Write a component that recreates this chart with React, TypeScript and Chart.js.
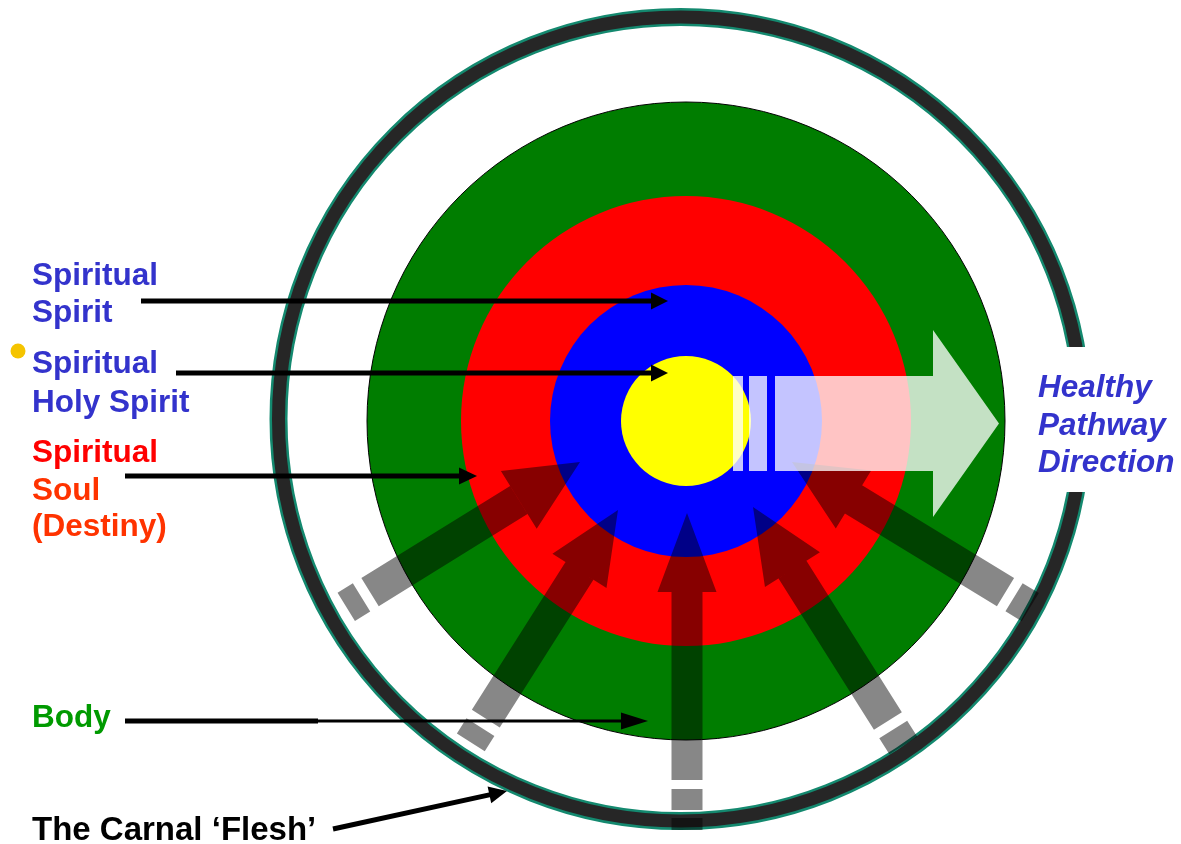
import { useEffect, useRef } from 'react';
import { Chart, registerables } from 'chart.js';

Chart.register(...registerables);

const W = 1181;
const H = 844;
// Diagram frame: origin at the centre of the target, 1 unit = 1 px, y up
const xMin = -686;
const xMax = 495;
const yMin = -423;
const yMax = 421;

// Concentric rings (bubbles): edge + dark band of the outer 'Flesh' ring, then Body, Soul, Spirit, Holy Spirit
const ringNames = ['Flesh edge', 'The Carnal ‘Flesh’', 'Body', 'Soul', 'Spirit', 'Holy Spirit'];
const ringX = [-5.5, -5.5, 0, 0, 0, 0];
const ringY = [2, 2, 0, 0, 0, 0];
const ringR = [402, 402, 319, 225, 136, 65];
const ringFill = ['rgba(0,0,0,0)', 'rgba(0,0,0,0)', '#007d00', '#ff0000', '#0000ff', '#ffff00'];
const ringLine = ['#14896f', '#262626', '#000000', '#ff0000', '#0000ff', '#ffff00'];
const ringLineWidth = [18, 13, 1, 0, 0, 0];

// Inflow arrows (dark translucent) – tip and tail end points
const inflowTipX = [-106, -68, 1, 67, 106];
const inflowTipY = [-41, -89, -92, -86, -41];
const inflowTailX = [-340, -215, 1, 217, 344];
const inflowTailY = [-186, -321, -409, -324, -186];
const inflowHeadLen = [72, 72, 79, 74, 72];
const inflowHeadW = [68, 64, 59, 65, 68];
const inflowShaftW = [33, 33, 31, 33, 33];
// shaft pieces along the axis, measured from the tip
const inflowPieces = [
  [[72, 247], [257, 275]],
  [[72, 247], [257, 275]],
  [[79, 267], [276, 297], [305, 317]],
  [[74, 253], [263, 282]],
  [[72, 250], [260, 279]],
];

// Healthy pathway arrow (light translucent), pointing right
const pathTipX = 313;
const pathMidY = -2.5;
const pathHeadBaseX = 247;
const pathHeadHalf = 93.5;
const pathShaftHalf = 47.5;
const pathPieces = [[47, 57], [63, 81], [89, 247]];

// Label pointer arrows
const pointerFromX = [-545, -510, -561, -561, -353];
const pointerFromY = [120, 48, -55, -300, -408];
const pointerToX = [-18, -18, -209, -38, -179];
const pointerToY = [120, 48, -55, -300, -370];
const pointerHeadLen = [17, 17, 18, 27, 18];
const pointerThinFromX = [null, null, null, -368, null];

// Labels
const labelText = [
  'Spiritual', 'Spirit',
  'Spiritual', 'Holy Spirit',
  'Spiritual', 'Soul', '(Destiny)',
  'Body',
  'The Carnal ‘Flesh’',
  'Healthy', 'Pathway', 'Direction',
];
const labelX = [-654, -654, -654, -654, -654, -654, -654, -654, -654, 352, 352, 352];
const labelY = [136, 99, 48, 9, -41, -79, -115, -306, -419, 24, -14, -51];
const labelSize = [31.5, 31.5, 31.5, 31.5, 31.5, 31.5, 31.5, 31.5, 33, 31.5, 31.5, 31.5];
const labelColor = [
  '#3333cc', '#3333cc',
  '#3333cc', '#3333cc',
  '#ff0000', '#ff3300', '#ff3300',
  '#009a00',
  '#000000',
  '#3333cc', '#3333cc', '#3333cc',
];
const labelItalic = [false, false, false, false, false, false, false, false, false, true, true, true];

// Text box behind the pathway label (breaks the outer ring)
const boxX = [344, 495];
const boxY = [74, -71];

// Bullet dot
const dotX = -668;
const dotY = 70;
const dotR = 7.5;

const diagramPlugin = {
  id: 'diagram',
  afterDatasetsDraw(chart: any) {
    const { ctx } = chart;
    const xs = chart.scales.x;
    const ys = chart.scales.y;
    const px = (v: number) => xs.getPixelForValue(v);
    const py = (v: number) => ys.getPixelForValue(v);

    ctx.save();

    // inflow arrows
    ctx.beginPath();
    for (let i = 0; i < inflowTipX.length; i++) {
      const tx = inflowTipX[i];
      const ty = inflowTipY[i];
      const dx = inflowTailX[i] - tx;
      const dy = inflowTailY[i] - ty;
      const len = Math.hypot(dx, dy);
      const ux = dx / len;
      const uy = dy / len;
      const nx = -uy;
      const ny = ux;
      const P = (s: number, w: number) => [px(tx + ux * s + nx * w), py(ty + uy * s + ny * w)];
      const hw = inflowHeadW[i] / 2;
      const hl = inflowHeadLen[i];
      let p = P(0, 0);
      ctx.moveTo(p[0], p[1]);
      p = P(hl, hw);
      ctx.lineTo(p[0], p[1]);
      p = P(hl, -hw);
      ctx.lineTo(p[0], p[1]);
      ctx.closePath();
      const sw = inflowShaftW[i] / 2;
      for (const [a, b] of inflowPieces[i]) {
        let q = P(a, sw);
        ctx.moveTo(q[0], q[1]);
        q = P(b, sw);
        ctx.lineTo(q[0], q[1]);
        q = P(b, -sw);
        ctx.lineTo(q[0], q[1]);
        q = P(a, -sw);
        ctx.lineTo(q[0], q[1]);
        ctx.closePath();
      }
    }
    ctx.fillStyle = 'rgba(0,0,0,0.47)';
    ctx.fill();

    // pathway arrow
    ctx.beginPath();
    for (const [a, b] of pathPieces) {
      ctx.moveTo(px(a), py(pathMidY + pathShaftHalf));
      ctx.lineTo(px(b), py(pathMidY + pathShaftHalf));
      ctx.lineTo(px(b), py(pathMidY - pathShaftHalf));
      ctx.lineTo(px(a), py(pathMidY - pathShaftHalf));
      ctx.closePath();
    }
    ctx.moveTo(px(pathHeadBaseX), py(pathMidY + pathHeadHalf));
    ctx.lineTo(px(pathTipX), py(pathMidY));
    ctx.lineTo(px(pathHeadBaseX), py(pathMidY - pathHeadHalf));
    ctx.closePath();
    ctx.fillStyle = 'rgba(255,255,255,0.77)';
    ctx.fill();

    // text box
    ctx.fillStyle = '#ffffff';
    ctx.fillRect(px(boxX[0]), py(boxY[0]), px(boxX[1]) - px(boxX[0]), py(boxY[1]) - py(boxY[0]));

    // pointer arrows
    ctx.fillStyle = '#000000';
    ctx.strokeStyle = '#000000';
    ctx.lineCap = 'butt';
    for (let i = 0; i < pointerFromX.length; i++) {
      const fx = pointerFromX[i];
      const fy = pointerFromY[i];
      const tx = pointerToX[i];
      const ty = pointerToY[i];
      const dx = tx - fx;
      const dy = ty - fy;
      const len = Math.hypot(dx, dy);
      const ux = dx / len;
      const uy = dy / len;
      const hl = pointerHeadLen[i];
      const bx = tx - ux * hl;
      const by = ty - uy * hl;
      const thin = pointerThinFromX[i];
      if (thin !== null) {
        const t = (thin - fx) / dx;
        const mx = fx + dx * t;
        const my = fy + dy * t;
        ctx.lineWidth = 5;
        ctx.beginPath();
        ctx.moveTo(px(fx), py(fy));
        ctx.lineTo(px(mx), py(my));
        ctx.stroke();
        ctx.lineWidth = 3;
        ctx.beginPath();
        ctx.moveTo(px(mx), py(my));
        ctx.lineTo(px(bx + ux), py(by + uy));
        ctx.stroke();
      } else {
        ctx.lineWidth = 5;
        ctx.beginPath();
        ctx.moveTo(px(fx), py(fy));
        ctx.lineTo(px(bx + ux), py(by + uy));
        ctx.stroke();
      }
      const hw = 8.5;
      ctx.beginPath();
      ctx.moveTo(px(tx), py(ty));
      ctx.lineTo(px(bx - uy * hw), py(by + ux * hw));
      ctx.lineTo(px(bx + uy * hw), py(by - ux * hw));
      ctx.closePath();
      ctx.fill();
    }

    // labels
    ctx.textBaseline = 'alphabetic';
    ctx.textAlign = 'left';
    for (let i = 0; i < labelText.length; i++) {
      ctx.font = `${labelItalic[i] ? 'italic ' : ''}bold ${labelSize[i]}px "Liberation Sans", Arial, sans-serif`;
      ctx.fillStyle = labelColor[i];
      ctx.fillText(labelText[i], px(labelX[i]), py(labelY[i]));
    }

    // bullet dot
    ctx.beginPath();
    ctx.arc(px(dotX), py(dotY), dotR, 0, Math.PI * 2);
    ctx.fillStyle = '#f5c400';
    ctx.fill();

    ctx.restore();
  },
};

export default function App() {
  const ref = useRef<HTMLCanvasElement>(null);
  useEffect(() => {
    const canvas = ref.current;
    if (!canvas) return;
    const datasets = ringNames.map((name, i) => ({
      label: name,
      data: [{ x: ringX[i], y: ringY[i], r: ringR[i] }],
      backgroundColor: ringFill[i],
      borderColor: ringLine[i],
      borderWidth: ringLineWidth[i],
      hoverBorderWidth: ringLineWidth[i],
      order: 10 - i,
      clip: false as any,
    }));
    const chart = new Chart(canvas, {
      type: 'bubble',
      data: { datasets },
      options: {
        animation: false,
        responsive: false,
        events: [],
        layout: { padding: 0, autoPadding: false },
        plugins: { legend: { display: false }, tooltip: { enabled: false } },
        scales: {
          x: { type: 'linear', min: xMin, max: xMax, display: false },
          y: { type: 'linear', min: yMin, max: yMax, display: false },
        },
      },
      plugins: [diagramPlugin],
    });
    return () => chart.destroy();
  }, []);
  return (
    <div style={{ position: 'fixed', left: 0, top: 0, width: W, height: H, background: '#ffffff' }}>
      <canvas ref={ref} width={W} height={H} style={{ display: 'block', width: W, height: H }} />
    </div>
  );
}
